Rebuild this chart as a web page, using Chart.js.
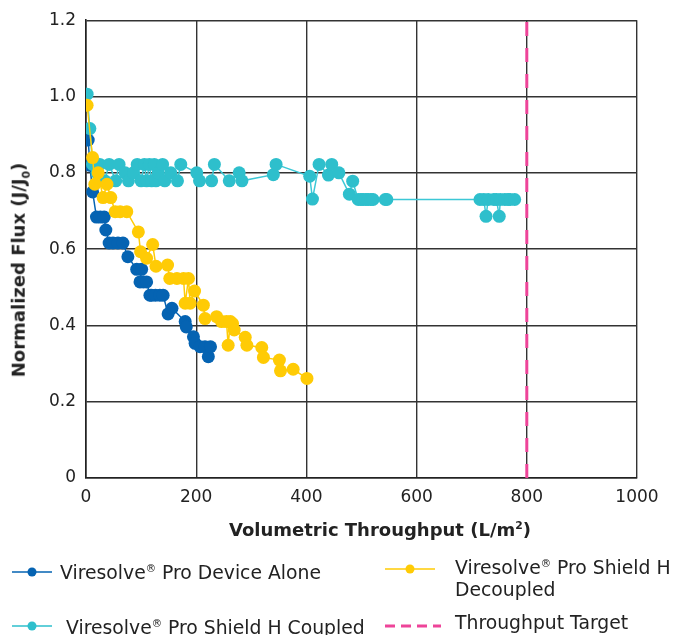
<!DOCTYPE html>
<html>
<head>
<meta charset="utf-8">
<script src="https://cdn.jsdelivr.net/npm/chart.js@4"></script>
<style>
  body { margin: 0; background: #fff; font-family: 'DejaVu Sans', Verdana, sans-serif; color: #222; }
  #wrap { position: relative; width: 673px; height: 635px; overflow: hidden; }
  #chart { position: absolute; left: 0; top: 0; }
  .x-title { position: absolute; left: 180px; top: 519px; width: 400px; text-align: center; font-weight: bold; font-size: 18px; white-space: nowrap; }
  .y-title { position: absolute; left: 20px; top: 270px; transform: translate(-50%, -50%) rotate(-90deg); font-weight: bold; font-size: 18px; white-space: nowrap; }
  .y-title sub { font-size: 0.6em; }
  .x-title sup { font-size: 0.6em; }
  .leg { position: absolute; font-size: 18.8px; line-height: 22px; white-space: nowrap; }
  .leg sup { font-size: 0.55em; }
  .mark { position: absolute; }
</style>
</head>
<body>
<div id="wrap">
  <canvas id="chart" width="673" height="635"></canvas>
  <div class="y-title">Normalized Flux (J/J<sub>0</sub>)</div>
  <div class="x-title">Volumetric Throughput (L/m<sup>2</sup>)</div>

  <svg class="mark" style="left:12px;top:562px" width="42" height="20"><line x1="0" y1="10" x2="40" y2="10" stroke="#0563b2" stroke-width="1.5"/><circle cx="20" cy="10" r="4.5" fill="#0563b2"/></svg>
  <div class="leg" style="left:60px;top:557px">Viresolve<sup>®</sup> Pro Device Alone</div>

  <svg class="mark" style="left:385px;top:559px" width="52" height="20"><line x1="0" y1="10" x2="50" y2="10" stroke="#ffcb05" stroke-width="1.5"/><circle cx="25" cy="10" r="4.5" fill="#ffcb05"/></svg>
  <div class="leg" style="left:455px;top:552px">Viresolve<sup>®</sup> Pro Shield H<br>Decoupled</div>

  <svg class="mark" style="left:12px;top:616px" width="42" height="20"><line x1="0" y1="10" x2="40" y2="10" stroke="#2ebfcc" stroke-width="1.5"/><circle cx="20" cy="10" r="4.5" fill="#2ebfcc"/></svg>
  <div class="leg" style="left:66px;top:612px">Viresolve<sup>®</sup> Pro Shield H Coupled</div>

  <svg class="mark" style="left:385px;top:616px" width="58" height="20"><line x1="0" y1="10" x2="56" y2="10" stroke="#ee4499" stroke-width="3" stroke-dasharray="10,6"/></svg>
  <div class="leg" style="left:455px;top:612px">Throughput Target</div>
</div>

<script>
// Viresolve Pro Device Alone
const aloneX = [4, 7, 12, 19, 26, 33, 36, 42, 49, 58, 67, 76, 92, 101, 98, 104, 110, 116, 119, 126,
  134, 140, 149, 156, 180, 182, 195, 198, 207, 216, 222, 226];
const aloneY = [0.886, 0.82, 0.75, 0.684, 0.684, 0.684, 0.65, 0.616, 0.616, 0.616, 0.616, 0.58, 0.547, 0.547, 0.514, 0.514, 0.514, 0.479, 0.479, 0.479,
  0.479, 0.479, 0.43, 0.445, 0.41, 0.396, 0.37, 0.353, 0.344, 0.344, 0.318, 0.344];

// Viresolve Pro Shield H Decoupled
const decoupledX = [2, 12, 16, 22, 31, 38, 45, 53, 62, 74, 95, 99, 110, 121, 127, 148, 152, 165, 177, 180,
  186, 189, 197, 213, 216, 237, 246, 255, 258, 262, 266, 269, 289, 292, 319, 322, 351, 353, 376, 401];
const decoupledY = [0.977, 0.84, 0.77, 0.80, 0.735, 0.77, 0.735, 0.698, 0.698, 0.698, 0.645, 0.593, 0.576, 0.612, 0.555, 0.558, 0.523, 0.523, 0.523, 0.458,
  0.523, 0.458, 0.49, 0.453, 0.418, 0.423, 0.41, 0.41, 0.348, 0.41, 0.405, 0.388, 0.369, 0.348, 0.342, 0.316, 0.309, 0.281, 0.285, 0.261];

// Viresolve Pro Shield H Coupled
const coupledX = [2, 7, 12, 20, 25, 34, 42, 54, 60, 71, 77, 86, 93, 100, 106, 110, 115, 119, 124, 127,
  131, 139, 143, 154, 166, 172, 201, 206, 228, 233, 260, 278, 283, 340, 345, 406, 411, 423, 440, 446,
  459, 478, 484, 494, 499, 503, 508, 512, 517, 521, 543, 546, 715, 722, 726, 730, 740, 745, 750, 752,
  760, 766, 770, 778];
const coupledY = [1.006, 0.916, 0.822, 0.80, 0.822, 0.779, 0.822, 0.779, 0.822, 0.80, 0.779, 0.80, 0.822, 0.779, 0.822, 0.779, 0.822, 0.779, 0.822, 0.779,
  0.80, 0.822, 0.779, 0.80, 0.779, 0.822, 0.80, 0.779, 0.779, 0.822, 0.779, 0.80, 0.779, 0.795, 0.822, 0.791, 0.731, 0.822, 0.794, 0.822,
  0.80, 0.744, 0.778, 0.73, 0.73, 0.73, 0.73, 0.73, 0.73, 0.73, 0.73, 0.73, 0.73, 0.73, 0.686, 0.73, 0.73, 0.73, 0.686, 0.73,
  0.73, 0.73, 0.73, 0.73];

// Throughput target
const targetX = [800, 800];
const targetY = [0, 1.2];

const xTicks = [0, 200, 400, 600, 800, 1000];

function toPoints(xs, ys) {
  return xs.map((x, i) => ({ x, y: ys[i] }));
}

function series(label, xs, ys, color, lineColor) {
  return {
    label,
    data: toPoints(xs, ys),
    showLine: true,
    borderColor: lineColor,
    backgroundColor: color,
    borderWidth: 1.5,
    pointRadius: 6.5,
    pointBorderWidth: 0,
    pointBackgroundColor: color,
  };
}

new Chart(document.getElementById('chart'), {
  type: 'scatter',
  data: {
    datasets: [
      series('Viresolve® Pro Shield H Decoupled', decoupledX, decoupledY, '#ffcb05', '#ffcb05'),
      series('Viresolve® Pro Shield H Coupled', coupledX, coupledY, '#2ebfcc', '#3cc8d6'),
      series('Viresolve® Pro Device Alone', aloneX, aloneY, '#0563b2', '#0563b2'),
      {
        label: 'Throughput Target',
        data: toPoints(targetX, targetY),
        showLine: true,
        borderColor: '#ee4499',
        borderWidth: 3,
        borderDash: [14, 12],
        pointRadius: 0,
      },
    ],
  },
  options: {
    responsive: false,
    animation: false,
    layout: { padding: { left: 0, top: 20, right: 36, bottom: 0 } },
    plugins: { legend: { display: false }, tooltip: { enabled: false } },
    scales: {
      x: {
        type: 'linear',
        min: 0,
        max: 1000,
        afterFit(scale) { scale.height = 157; },
        afterBuildTicks(scale) { scale.ticks = xTicks.map((value) => ({ value })); },
        ticks: {
          color: '#222',
          padding: 9,
          font: { family: 'DejaVu Sans', size: 17 },
          callback: (value) => String(value),
        },
        grid: { color: '#333', lineWidth: 1.4, drawTicks: false },
        border: { color: '#222', width: 1.6 },
      },
      y: {
        min: 0,
        max: 1.2,
        afterFit(scale) { scale.width = 86; },
        ticks: {
          stepSize: 0.2,
          color: '#222',
          padding: 10,
          font: { family: 'DejaVu Sans', size: 17 },
          callback: (value) => (value === 0 ? '0' : Number(value).toFixed(1)),
        },
        grid: { color: '#333', lineWidth: 1.4, drawTicks: false },
        border: { color: '#222', width: 1.6 },
      },
    },
  },
});
</script>
</body>
</html>
